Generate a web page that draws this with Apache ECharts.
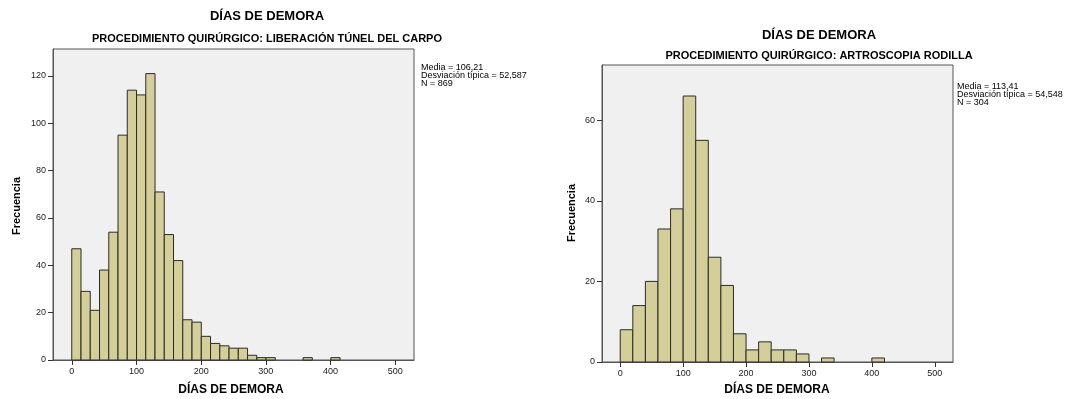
<!DOCTYPE html>
<html>
<head>
<meta charset="utf-8">
<title>DÍAS DE DEMORA</title>
<script src="https://cdn.jsdelivr.net/npm/echarts@6/dist/echarts.min.js"></script>
<style>
  html, body { margin: 0; padding: 0; background: #ffffff; }
  #chart { width: 1071px; height: 399px; }
</style>
</head>
<body>
<div id="chart"></div>
<script>
// Histogram counts per bin (days of delay), one array per procedure
const carpoBinStart = 0;
const carpoBinWidth = 14.3;
const carpoCounts = [47, 29, 21, 38, 54, 95, 114, 112, 121, 71, 53, 42, 17, 16, 10, 7, 6, 5, 5, 2, 1, 1, 0, 0, 0, 1, 0, 0, 1];

const rodillaBinStart = 0;
const rodillaBinWidth = 20;
const rodillaCounts = [8, 14, 20, 33, 38, 66, 55, 26, 19, 7, 3, 5, 3, 3, 2, 0, 1, 0, 0, 0, 1];

// Tick values
const xTicks = [0, 100, 200, 300, 400, 500];
const carpoYTicks = [0, 20, 40, 60, 80, 100, 120];
const rodillaYTicks = [0, 20, 40, 60];

// Texts
const mainTitle = 'DÍAS DE DEMORA';
const carpoSubtitle = 'PROCEDIMIENTO QUIRÚRGICO: LIBERACIÓN TÚNEL DEL CARPO';
const rodillaSubtitle = 'PROCEDIMIENTO QUIRÚRGICO: ARTROSCOPIA RODILLA';
const xName = 'DÍAS DE DEMORA';
const yName = 'Frecuencia';
const carpoStats = ['Media = 106,21', 'Desviación típica = 52,587', 'N = 869'];
const rodillaStats = ['Media = 113,41', 'Desviación típica = 54,548', 'N = 304'];

const FONT = '"Liberation Sans", Arial, sans-serif';
const BAR_FILL = '#d4cf98';
const BAR_EDGE = '#2b2b2b';

function toBins(start, width, counts) {
  return counts.map((c, i) => [start + i * width, start + (i + 1) * width, c]);
}

function renderBar(params, api) {
  const count = api.value(2);
  if (!count) return null;
  const p0 = api.coord([api.value(0), 0]);
  const p1 = api.coord([api.value(1), count]);
  return {
    type: 'rect',
    shape: { x: p0[0], y: p1[1], width: p1[0] - p0[0], height: p0[1] - p1[1] },
    style: { fill: BAR_FILL, stroke: BAR_EDGE, lineWidth: 1 }
  };
}

function xAxisCfg(gridIndex) {
  return {
    type: 'value', gridIndex, min: -29, max: 529,
    axisLine: { show: true, onZero: false, lineStyle: { color: '#555', width: 1 } },
    axisTick: { show: true, inside: false, length: 5, customValues: xTicks, lineStyle: { color: '#333' } },
    axisLabel: { customValues: xTicks, color: '#222', fontSize: 9, fontFamily: FONT, margin: 7 },
    splitLine: { show: false }
  };
}

function yAxisCfg(gridIndex, max, ticks) {
  return {
    type: 'value', gridIndex, min: 0, max,
    axisLine: { show: true, onZero: false, lineStyle: { color: '#555', width: 1 } },
    axisTick: { show: true, inside: false, length: 5, customValues: ticks, lineStyle: { color: '#333' } },
    axisLabel: { customValues: ticks, color: '#222', fontSize: 9, fontFamily: FONT, margin: 7 },
    splitLine: { show: false }
  };
}

function txt(x, y, text, size, weight, align, extra) {
  return Object.assign({
    type: 'text', x, y,
    style: {
      text, fill: '#000', fontSize: size, fontWeight: weight, fontFamily: FONT,
      align: align || 'center', verticalAlign: 'middle'
    }
  }, extra || {});
}

function statsBlock(x, y, lines) {
  return lines.map((l, i) => txt(x, y + i * 8, l, 9, 'normal', 'left'));
}

const chart = echarts.init(document.getElementById('chart'), null, { renderer: 'canvas' });

chart.setOption({
  animation: false,
  backgroundColor: '#ffffff',
  grid: [
    { left: 53, top: 49, width: 361, height: 311, show: true, backgroundColor: '#f0f0f0', borderColor: '#555', borderWidth: 1 },
    { left: 602, top: 65, width: 351, height: 297, show: true, backgroundColor: '#f0f0f0', borderColor: '#555', borderWidth: 1 }
  ],
  xAxis: [xAxisCfg(0), xAxisCfg(1)],
  yAxis: [yAxisCfg(0, 131.4, carpoYTicks), yAxisCfg(1, 73.7, rodillaYTicks)],
  series: [
    { type: 'custom', xAxisIndex: 0, yAxisIndex: 0, renderItem: renderBar,
      encode: { x: [0, 1], y: 2 }, data: toBins(carpoBinStart, carpoBinWidth, carpoCounts) },
    { type: 'custom', xAxisIndex: 1, yAxisIndex: 1, renderItem: renderBar,
      encode: { x: [0, 1], y: 2 }, data: toBins(rodillaBinStart, rodillaBinWidth, rodillaCounts) }
  ],
  graphic: [
    // left histogram texts
    txt(267, 16, mainTitle, 13, 'bold'),
    txt(267, 39, carpoSubtitle, 11, 'bold'),
    txt(231, 390, xName, 12, 'bold'),
    txt(17, 206, yName, 11, 'bold', 'center', { rotation: Math.PI / 2 }),
    ...statsBlock(421, 68, carpoStats),
    // right histogram texts
    txt(819, 35, mainTitle, 13, 'bold'),
    txt(819, 56, rodillaSubtitle, 11, 'bold'),
    txt(777, 390, xName, 12, 'bold'),
    txt(572, 213, yName, 11, 'bold', 'center', { rotation: Math.PI / 2 }),
    ...statsBlock(957, 87, rodillaStats)
  ]
});
</script>
</body>
</html>
